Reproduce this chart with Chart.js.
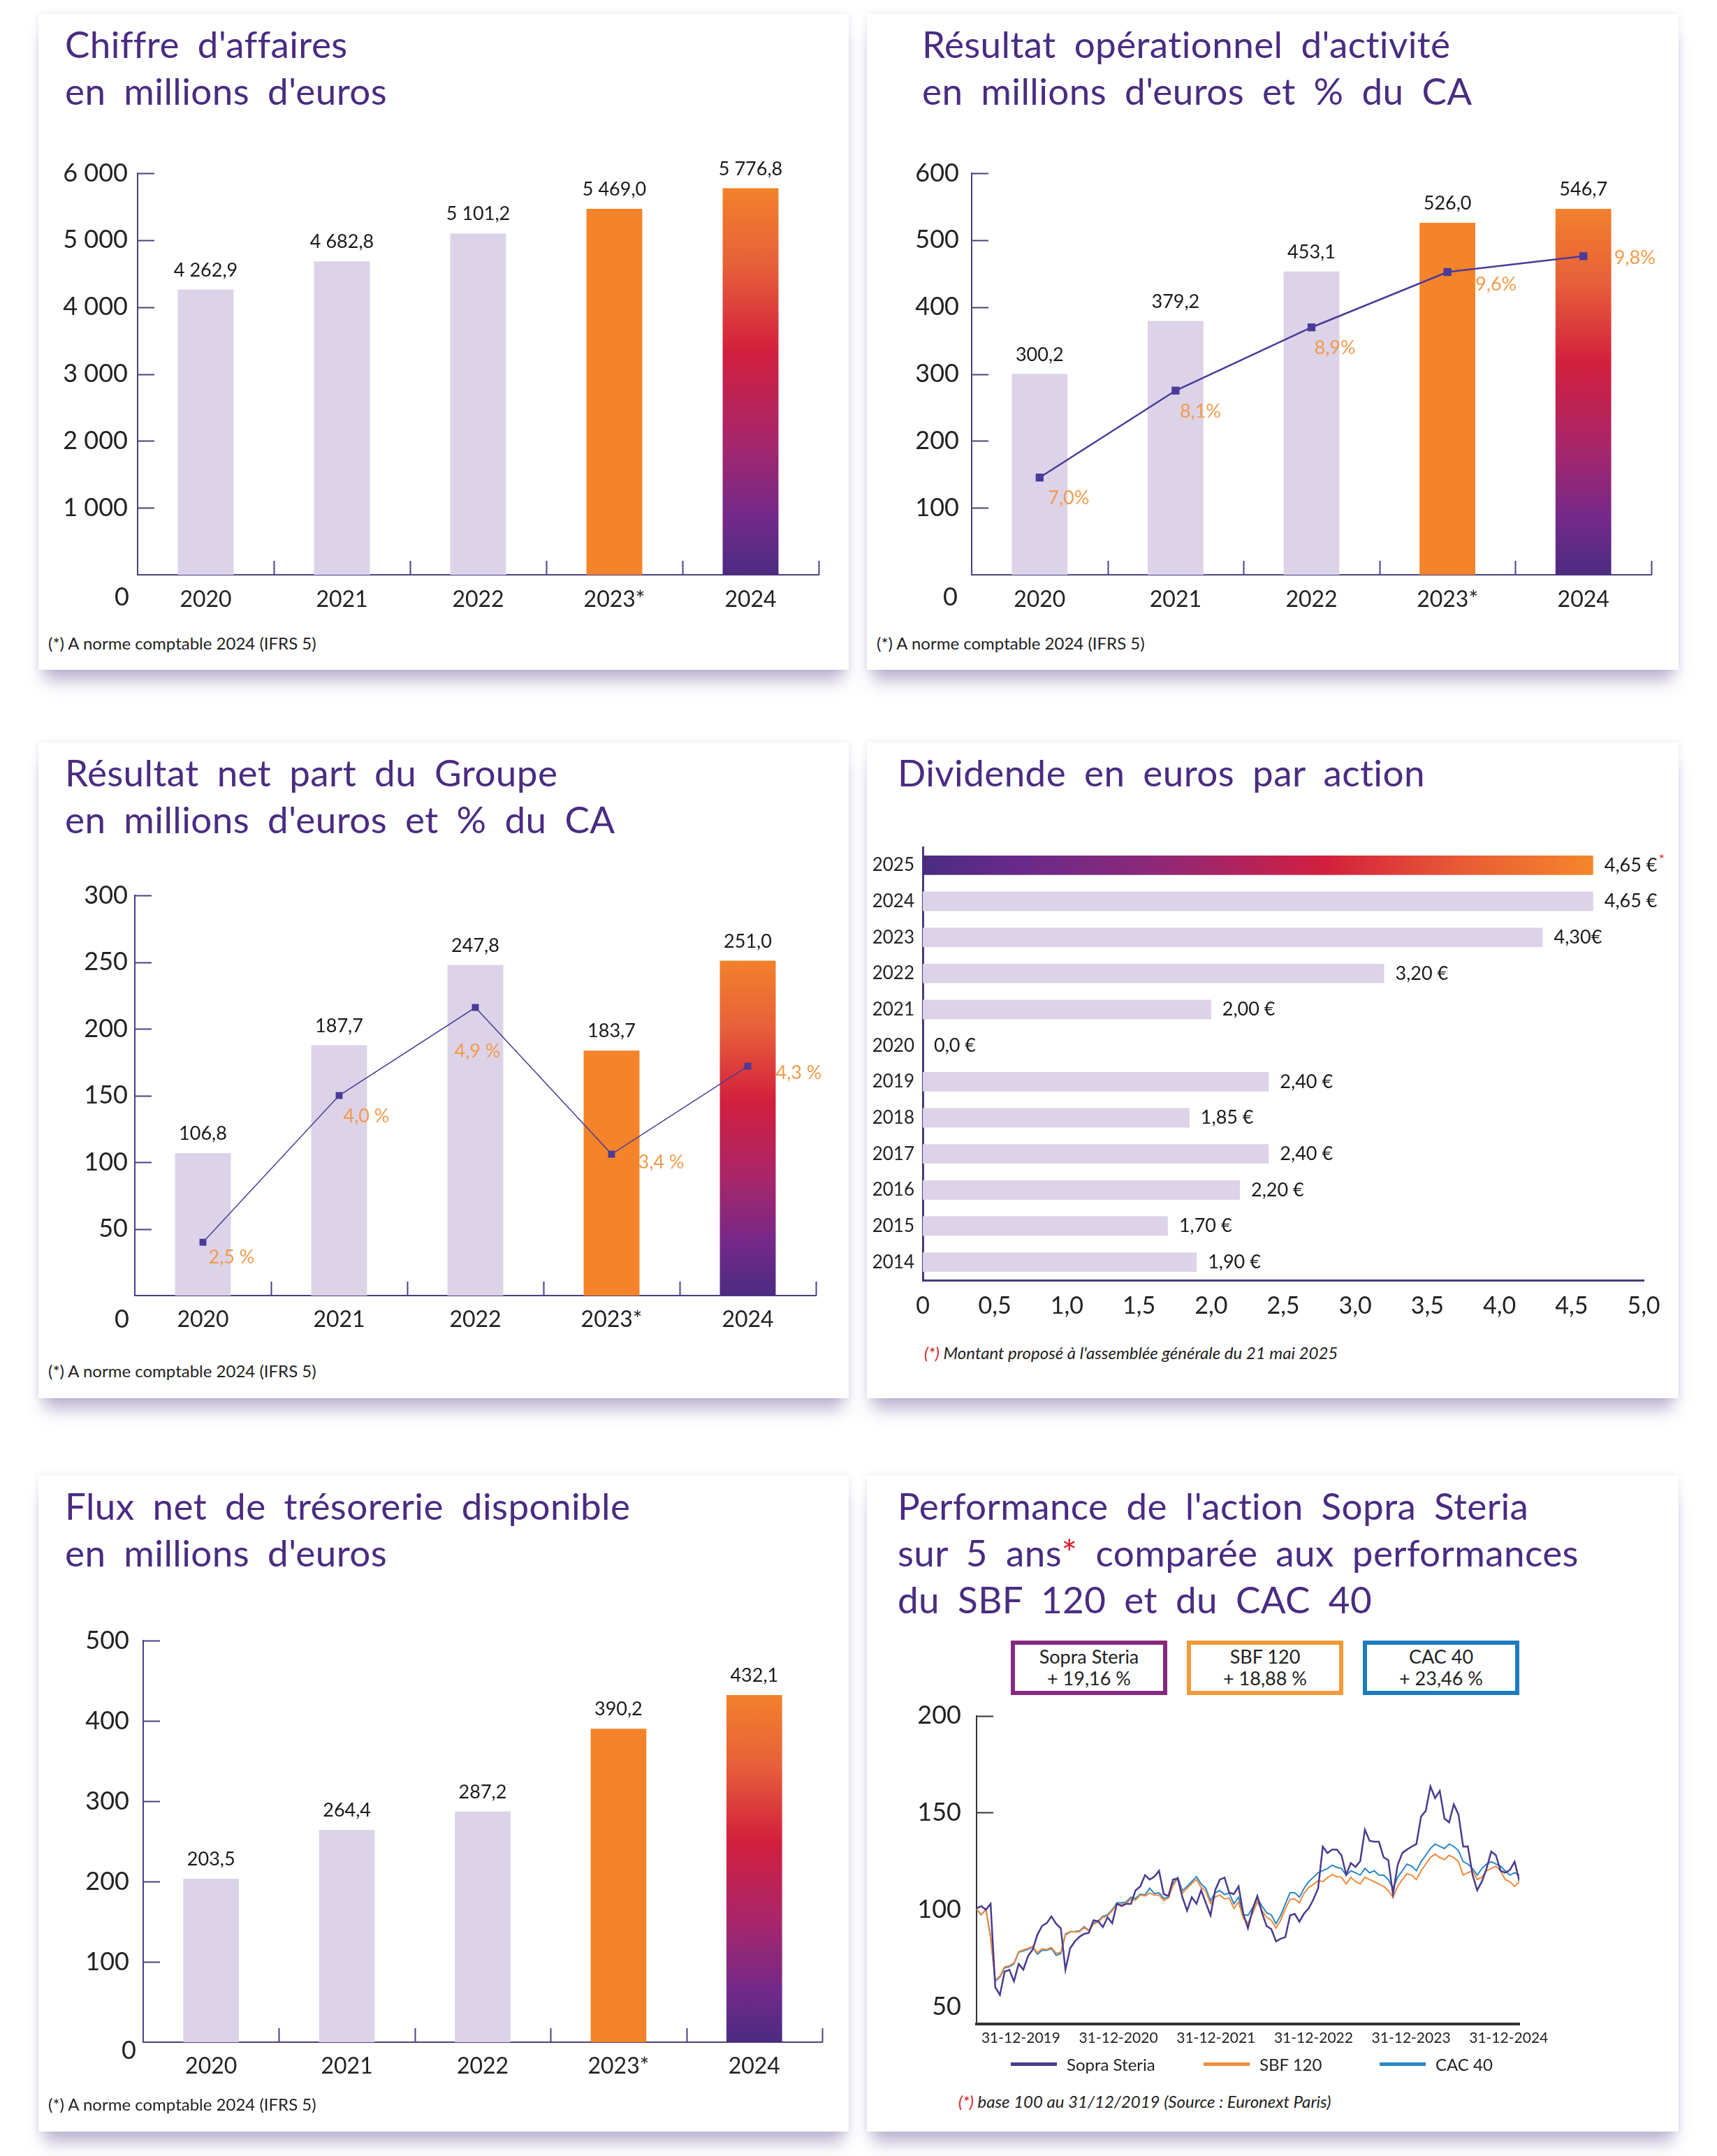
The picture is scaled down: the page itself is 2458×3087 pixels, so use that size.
<!DOCTYPE html>
<html lang="fr">
<head>
<meta charset="utf-8">
<title>Sopra Steria - chiffres clés</title>
<script src="https://cdn.jsdelivr.net/npm/chart.js@4.4.1/dist/chart.umd.min.js"></script>
<style>
  html, body { margin: 0; padding: 0; background: #fff; }
  body { width: 2458px; height: 3087px; position: relative; font-family: Lato, "Noto Sans", sans-serif; }
  .card { position: absolute; background: #fff;
          box-shadow: 0 24px 22px -8px rgba(95, 75, 145, 0.40), 0 0 10px rgba(120, 100, 170, 0.16); }
  .title { position: absolute; top: 9px; color: #4a2c82; font-size: 53px; line-height: 67px; word-spacing: 12px; letter-spacing: 0.4px; white-space: nowrap; }
  .title .star { color: #d8232a; }
  .card canvas { position: absolute; left: 0; }
  .note { position: absolute; left: 14px; top: 887px; font-size: 24px; line-height: 28px; color: #222; white-space: nowrap; }
  .note.it { font-style: italic; }
  .note .star { color: #d8232a; }
  .boxes { position: absolute; left: 206px; top: 236px; display: flex; gap: 28px; }
  .boxes div { width: 212px; height: 65px; border: 6px solid; text-align: center; font-size: 27px; line-height: 31px; color: #222; padding-top: 1px; }
  .legend { position: absolute; top: 828px; left: 206px; display: flex; font-size: 24px; color: #222; }
  .legend span { display: flex; align-items: center; }
  .legend span:nth-child(1) { width: 276px; }
  .legend span:nth-child(2) { width: 252px; }
  .legend i { display: inline-block; width: 66px; height: 5px; margin-right: 14px; }
</style>
</head>
<body>

<div class="card" style="left:55px;top:20px;width:1160px;height:939px">
  <div class="title" style="left:38px">Chiffre d'affaires<br>en millions d'euros</div>
  <canvas id="revenueChart" width="1160" height="700" style="top:180px"></canvas>
  <div class="note">(*) A norme comptable 2024 (IFRS 5)</div>
</div>

<div class="card" style="left:1241px;top:20px;width:1162px;height:939px">
  <div class="title" style="left:79px">Résultat opérationnel d'activité<br>en millions d'euros et % du CA</div>
  <canvas id="opChart" width="1162" height="700" style="top:180px"></canvas>
  <div class="note">(*) A norme comptable 2024 (IFRS 5)</div>
</div>

<div class="card" style="left:55px;top:1063px;width:1160px;height:939px">
  <div class="title" style="left:38px">Résultat net part du Groupe<br>en millions d'euros et % du CA</div>
  <canvas id="netChart" width="1160" height="700" style="top:170px"></canvas>
  <div class="note" style="top:886px">(*) A norme comptable 2024 (IFRS 5)</div>
</div>

<div class="card" style="left:1241px;top:1063px;width:1162px;height:939px">
  <div class="title" style="left:44px">Dividende en euros par action</div>
  <canvas id="dividendChart" width="1162" height="740" style="top:110px"></canvas>
  <div class="note it" style="left:82px;top:860px"><span class="star">(*)</span> Montant proposé à l'assemblée générale du 21 mai 2025</div>
</div>

<div class="card" style="left:55px;top:2113px;width:1160px;height:939px">
  <div class="title" style="left:38px">Flux net de trésorerie disponible<br>en millions d'euros</div>
  <canvas id="cashChart" width="1160" height="700" style="top:190px"></canvas>
  <div class="note" style="top:886px">(*) A norme comptable 2024 (IFRS 5)</div>
</div>

<div class="card" style="left:1241px;top:2113px;width:1162px;height:939px">
  <div class="title" style="left:44px">Performance de l'action Sopra Steria<br>sur 5 ans<span class="star">*</span> comparée aux performances<br>du SBF 120 et du CAC 40</div>
  <div class="boxes" id="perfBoxes"></div>
  <canvas id="perfChart" width="1162" height="530" style="top:300px"></canvas>
  <div class="legend" id="perfLegend"></div>
  <div class="note it" style="left:131px;top:882px"><span class="star">(*)</span> base 100 au 31/12/2019 (Source : Euronext Paris)</div>
</div>

<script>
// ---- data ----
const years = ["2020", "2021", "2022", "2023*", "2024"];
const revenue = [4262.9, 4682.8, 5101.2, 5469.0, 5776.8];
const opResult = [300.2, 379.2, 453.1, 526.0, 546.7];
const opMargin = [7.0, 8.1, 8.9, 9.6, 9.8];
const netResult = [106.8, 187.7, 247.8, 183.7, 251.0];
const netMargin = [2.5, 4.0, 4.9, 3.4, 4.3];
const freeCashFlow = [203.5, 264.4, 287.2, 390.2, 432.1];

const dividendYears = ["2025", "2024", "2023", "2022", "2021", "2020", "2019", "2018", "2017", "2016", "2015", "2014"];
const dividends = [4.65, 4.65, 4.30, 3.20, 2.00, 0.0, 2.40, 1.85, 2.40, 2.20, 1.70, 1.90];
const dividendLabels = ["4,65 €", "4,65 €", "4,30€", "3,20 €", "2,00 €", "0,0 €", "2,40 €", "1,85 €", "2,40 €", "2,20 €", "1,70 €", "1,90 €"];

// performance, base 100, one reading every ~17 days
const perfDates = ["31-12-2019", "31-12-2020", "31-12-2021", "31-12-2022", "31-12-2023", "31-12-2024"];
const perfTicks = [50, 100, 150, 200];
const perfNames = ["Sopra Steria", "SBF 120", "CAC 40"];
const perfChanges = ["+ 19,16 %", "+ 18,88 %", "+ 23,46 %"];
const sopraSteria = [
  100.7, 101.8, 100, 103, 60, 56, 68, 69, 63, 72, 69, 76, 79.5, 87, 91.6, 93, 96.5, 92.7, 90.4, 69,
  80, 83.6, 86, 87.5, 88, 94.5, 94, 91, 96, 93, 103, 101.8, 103, 103, 110, 112, 117.8, 115.5, 117, 120, 108,
  107, 115.5, 116, 106.4, 99.5, 106.4, 103, 110, 103.5, 97, 110, 115.5, 116.5, 108.7, 108, 112, 98, 90.4, 100,
  107, 98.4, 91.5, 90, 83.6, 85, 85.8, 97, 97.8, 93.8, 98, 100.7, 105.3, 111, 132.5, 129.2, 131, 131, 128,
  118, 124, 122, 125, 141.2, 135.5, 135, 135, 127, 125.5, 108, 123, 129.2, 131, 132.5, 133.8, 148, 150.9, 163.5,
  157.5, 161.2, 147, 145, 154.3, 149, 132.5, 132.6, 118, 110, 114.5, 121.2, 130, 128, 120, 119, 120.5, 124.7, 114.8
];
const sbf120 = [
  100.1, 97.5, 100, 86, 63.5, 65.8, 70.5, 71, 72.5, 78.3, 79.2, 80, 81, 77.8, 79.8, 79.5, 80.5, 77.5, 78, 87.5,
  88.7, 88.5, 88.6, 90.8, 89, 92.5, 93.7, 96, 96.8, 99.4, 102.8, 102.7, 103.2, 105.5, 105, 107.5, 107, 108.5, 107.5, 107.5, 104.7,
  106, 112.5, 116, 108.5, 111, 113.5, 115.5, 111.5, 109.5, 103, 106.5, 107.5, 105.5, 106, 100.5, 104, 95.5, 93, 98,
  104, 99.5, 96, 94.5, 90.4, 94.5, 100.5, 105.3, 105.5, 103.5, 108.5, 111.5, 113, 115, 114.4, 116.5, 118, 117, 116.7,
  113.2, 116.7, 114.4, 113.2, 116.7, 115.5, 114.4, 113.2, 112, 109.8, 106.4, 112, 115.5, 118.4, 117.8, 115.5, 120, 123.5, 126.9,
  128.6, 126.9, 125.8, 128, 126.9, 124.7, 117.8, 119, 120, 115.5, 116.7, 120, 121.2, 122.4, 120, 115.5, 114.4, 112, 114.4
];
const cac40 = [
  100.1, 97.3, 100.1, 85.8, 63, 65.3, 70, 70.5, 72, 78, 78.7, 79.5, 80.7, 77, 79, 79, 80, 76.5, 77.3, 87,
  88.5, 88.7, 89, 91.2, 89.3, 93, 94.2, 96.5, 97.3, 100, 103.5, 103.5, 104, 106.4, 105.8, 108, 107.5, 111, 108.3, 108.7, 105.8,
  106.4, 113.2, 116.7, 109.8, 112, 114.5, 117, 113.2, 111, 104.5, 108.7, 109.8, 107.8, 108.5, 103, 106.4, 97.5, 97, 101,
  106, 101.8, 98.4, 97.3, 92.7, 97, 103, 108.7, 108.7, 106.4, 111, 114.4, 116.7, 119, 120.1, 121.2, 122.9, 121.8, 121.2,
  117.7, 120, 119, 117.8, 121.2, 119, 120, 117.8, 117.8, 115.5, 111, 116.7, 120, 123.5, 122.4, 120, 124.7, 128, 131.5,
  133.8, 132.6, 131.5, 133.8, 132.6, 130.4, 124.7, 123.5, 121.2, 117.8, 121.2, 123.5, 124.7, 123.5, 122.4, 120, 117.8, 119, 117.8
];
const perfStart = 2019.546;   // first reading, in years
const perfStep = 0.04796;     // years between readings

// ---- styles ----
const LIGHT = "#dcd3e8", ORANGE = "#f5832a", AXIS = "#4d3f80", INK = "#222";
const LINE = "#4b3a9a", PCT = "#f39a4a";
const perfColors = ["#4b3a8e", "#f08a3c", "#2a86c8"];
const perfBoxColors = ["#872a7f", "#f29a38", "#1e7bc0"];

Chart.defaults.font.family = 'Lato, "Noto Sans", sans-serif';
Chart.defaults.color = INK;

function frNum(v, dec) {
  const parts = v.toFixed(dec).split(".");
  parts[0] = parts[0].replace(/\B(?=(\d{3})+(?!\d))/g, " ");
  return parts.join(",");
}

function warmGradient(ctx, x0, y0, x1, y1) {
  const g = ctx.createLinearGradient(x0, y0, x1, y1);
  g.addColorStop(0, "#f2812b");
  g.addColorStop(0.2, "#e7603a");
  g.addColorStop(0.42, "#d31f3d");
  g.addColorStop(0.65, "#a8266a");
  g.addColorStop(0.85, "#73298a");
  g.addColorStop(1, "#4b2c80");
  return g;
}

// axis decorations and value labels
const deco = {
  id: "deco",
  afterDatasetsDraw(chart, args, o) {
    const ctx = chart.ctx, xs = chart.scales.x, ys = chart.scales.y;
    ctx.save();
    ctx.strokeStyle = o.axisColor || AXIS;
    ctx.lineWidth = 2;
    if (o.yTicks) {
      ys.ticks.forEach(t => {
        if (t.value === 0 || (o.yTickList && !o.yTickList.includes(t.value))) return;
        const py = Math.round(ys.getPixelForValue(t.value)) + 0.5;
        ctx.beginPath(); ctx.moveTo(xs.left, py); ctx.lineTo(xs.left + 24, py); ctx.stroke();
      });
    }
    if (o.xTicks) {
      for (let i = 0; i < xs.ticks.length; i++) {
        const px = Math.round(xs.getPixelForValue(i + 0.5)) + 0.5;
        ctx.beginPath(); ctx.moveTo(px, ys.bottom); ctx.lineTo(px, ys.bottom - 20); ctx.stroke();
      }
    }
    if (o.zero) {
      ctx.fillStyle = INK; ctx.font = "36px Lato, sans-serif";
      ctx.textAlign = "right"; ctx.textBaseline = "middle";
      ctx.fillText("0", xs.left - o.zero[0], ys.bottom + o.zero[1]);
    }
    if (o.barLabels) {
      ctx.fillStyle = "#1a1a1a"; ctx.font = "27px Lato, sans-serif";
      ctx.textAlign = "center"; ctx.textBaseline = "bottom";
      const ds = chart.data.datasets[0];
      chart.getDatasetMeta(0).data.forEach((bar, i) => {
        ctx.fillText(o.barLabels(ds.data[i]), bar.x, bar.y - 14);
      });
    }
    if (o.pctLabels) {
      ctx.fillStyle = PCT; ctx.font = "27px Lato, sans-serif";
      ctx.textAlign = "left"; ctx.textBaseline = "middle";
      const ds = chart.data.datasets[1];
      chart.getDatasetMeta(1).data.forEach((pt, i) => {
        const off = o.pctOffsets[i];
        ctx.fillText(o.pctLabels(ds.data[i]), pt.x + off[0], pt.y + off[1]);
      });
    }
    if (o.hLabels) {
      ctx.font = "27px Lato, sans-serif";
      ctx.textAlign = "left"; ctx.textBaseline = "middle";
      chart.getDatasetMeta(0).data.forEach((bar, i) => {
        ctx.fillStyle = "#1a1a1a";
        const txt = o.hLabels[i];
        const x0 = Math.max(bar.x, xs.left) + 16;
        ctx.fillText(txt, x0, bar.y);
        if (i === 0) {
          const w = ctx.measureText(txt).width;
          ctx.fillStyle = "#d8232a"; ctx.font = "20px Lato, sans-serif";
          ctx.fillText("*", x0 + w + 2, bar.y - 8);
          ctx.font = "27px Lato, sans-serif";
        }
      });
    }
    ctx.restore();
  }
};

function barColor(c) {
  if (c.type !== "data") return LIGHT;
  if (c.dataIndex === 3) return ORANGE;
  if (c.dataIndex === 4) {
    const ys = c.chart.scales.y;
    if (!ys || !c.chart.chartArea) return ORANGE;
    return warmGradient(c.chart.ctx, 0, ys.getPixelForValue(c.raw), 0, ys.getPixelForValue(0));
  }
  return LIGHT;
}

function yearBars(id, values, s) {
  const datasets = [{
    type: "bar", data: values, backgroundColor: barColor,
    barPercentage: 0.41, categoryPercentage: 1, order: 2
  }];
  if (s.pct) {
    datasets.push({
      type: "line", data: s.pct, yAxisID: "y1", order: 1,
      borderColor: LINE, borderWidth: s.lineWidth, pointStyle: "rect",
      pointRadius: s.pointRadius, pointBackgroundColor: LINE, pointBorderWidth: 0
    });
  }
  const scales = {
    x: {
      grid: { display: false, drawTicks: false },
      border: { color: AXIS, width: 2 },
      ticks: { font: { size: 32 }, color: INK, padding: s.xPad },
      afterFit: sc => { sc.height = 60; }
    },
    y: {
      min: 0, max: s.max,
      grid: { display: false, drawTicks: false },
      border: { color: AXIS, width: 2 },
      ticks: { stepSize: s.step, font: { size: 36 }, color: INK, padding: s.yPad,
               callback: v => v === 0 ? "" : frNum(v, 0) },
      afterFit: sc => { sc.width = s.yWidth; }
    }
  };
  if (s.pct) scales.y1 = { display: false, min: s.pctMin, max: s.pctMax };
  return new Chart(document.getElementById(id), {
    data: { labels: years, datasets },
    plugins: [deco],
    options: {
      responsive: false, animation: false, devicePixelRatio: 1,
      layout: { padding: { top: s.top, right: s.right, bottom: s.bottom, left: 0 } },
      plugins: {
        legend: { display: false }, tooltip: { enabled: false },
        deco: {
          yTicks: true, xTicks: true, zero: s.zero,
          barLabels: v => frNum(v, 1),
          pctLabels: s.pct ? s.pctFmt : null, pctOffsets: s.pctOffsets
        }
      },
      scales
    }
  });
}

yearBars("revenueChart", revenue, {
  max: 6000, step: 1000, yWidth: 142, yPad: 14, top: 48, right: 43, bottom: 17, xPad: 16, zero: [12, 32]
});
yearBars("opChart", opResult, {
  max: 600, step: 100, yWidth: 150, yPad: 18, top: 48, right: 39, bottom: 17, xPad: 16, zero: [20, 32],
  pct: opMargin, pctMin: 5.77, pctMax: 10.85, lineWidth: 2.5, pointRadius: 8,
  pctFmt: v => v.toFixed(1).replace(".", ",") + "%",
  pctOffsets: [[12, 30], [6, 30], [4, 30], [40, 18], [44, 2]]
});
yearBars("netChart", netResult, {
  max: 300, step: 50, yWidth: 138, yPad: 10, top: 49, right: 47, bottom: 18, xPad: 15, zero: [8, 34],
  pct: netMargin, pctMin: 1.955, pctMax: 6.046, lineWidth: 1.5, pointRadius: 7,
  pctFmt: v => v.toFixed(1).replace(".", ",") + " %",
  pctOffsets: [[8, 22], [6, 30], [-30, 63], [38, 12], [40, 10]]
});
yearBars("cashChart", freeCashFlow, {
  max: 500, step: 100, yWidth: 150, yPad: 20, top: 46, right: 38, bottom: 19, xPad: 15, zero: [10, 12]
});

// dividend per share, horizontal bars
new Chart(document.getElementById("dividendChart"), {
  type: "bar",
  data: {
    labels: dividendYears,
    datasets: [{
      data: dividends,
      barPercentage: 0.54, categoryPercentage: 1,
      backgroundColor: c => {
        if (c.type !== "data" || c.dataIndex !== 0) return LIGHT;
        const xs = c.chart.scales.x;
        if (!xs || !c.chart.chartArea) return ORANGE;
        const g = c.chart.ctx.createLinearGradient(xs.getPixelForValue(0), 0, xs.getPixelForValue(c.raw), 0);
        g.addColorStop(0, "#4b2c80");
        g.addColorStop(0.15, "#6a2a8a");
        g.addColorStop(0.35, "#8e2878");
        g.addColorStop(0.6, "#d31f3d");
        g.addColorStop(0.8, "#e85a35");
        g.addColorStop(1, "#f5862a");
        return g;
      }
    }]
  },
  plugins: [deco],
  options: {
    indexAxis: "y", responsive: false, animation: false, devicePixelRatio: 1,
    layout: { padding: { top: 40, right: 50, bottom: 20, left: 0 } },
    plugins: {
      legend: { display: false }, tooltip: { enabled: false },
      deco: { hLabels: dividendLabels }
    },
    scales: {
      x: {
        min: 0, max: 5,
        grid: { display: false, drawTicks: false },
        border: { color: "#4a3a7c", width: 3 },
        ticks: { stepSize: 0.5, font: { size: 34 }, color: INK, padding: 17,
                 callback: v => v === 0 ? "0" : v.toFixed(1).replace(".", ",") },
        afterFit: sc => { sc.height = 60; }
      },
      y: {
        grid: { display: false, drawTicks: false },
        border: { color: "#4a3a7c", width: 3 },
        ticks: { font: { size: 26 }, color: INK, padding: 12 },
        afterFit: sc => { sc.width = 80; }
      }
    }
  }
});

// share performance vs indices
const perfSeries = [sopraSteria, sbf120, cac40];
new Chart(document.getElementById("perfChart"), {
  type: "line",
  data: {
    datasets: perfSeries.map((vals, k) => ({
      label: perfNames[k],
      data: vals.map((v, i) => ({ x: perfStart + i * perfStep, y: v })),
      borderColor: perfColors[k], borderWidth: k === 0 ? 2.5 : 2,
      pointRadius: 0, tension: 0
    }))
  },
  plugins: [deco],
  options: {
    responsive: false, animation: false, devicePixelRatio: 1,
    layout: { padding: { top: 30, right: 228, bottom: 5, left: 0 } },
    plugins: {
      legend: { display: false }, tooltip: { enabled: false },
      deco: { yTicks: true, yTickList: [150, 200], axisColor: "#333" }
    },
    scales: {
      x: {
        type: "linear", min: perfStart, max: perfStart + (sopraSteria.length - 1) * perfStep,
        afterBuildTicks: sc => { sc.ticks = perfDates.map((d, i) => ({ value: 2020 + i })); },
        grid: { display: false, drawTicks: false },
        border: { color: "#333", width: 4 },
        ticks: { font: { size: 21 }, color: INK, padding: 8, maxRotation: 0, autoSkip: false,
                 callback: (v, i) => perfDates[i] },
        afterFit: sc => { sc.height = 40; }
      },
      y: {
        min: 41, max: 200,
        afterBuildTicks: sc => { sc.ticks = perfTicks.map(v => ({ value: v })); },
        grid: { display: false, drawTicks: false },
        border: { color: "#333", width: 2 },
        ticks: { font: { size: 36 }, color: INK, padding: 22 },
        afterFit: sc => { sc.width = 157; }
      }
    }
  }
});

// boxed totals and line legend
const boxes = document.getElementById("perfBoxes");
const legend = document.getElementById("perfLegend");
perfNames.forEach((name, k) => {
  const b = document.createElement("div");
  b.style.borderColor = perfBoxColors[k];
  b.innerHTML = name + "<br>" + perfChanges[k];
  boxes.appendChild(b);
  const l = document.createElement("span");
  l.innerHTML = '<i style="background:' + perfColors[k] + '"></i>' + name;
  legend.appendChild(l);
});
</script>
</body>
</html>
